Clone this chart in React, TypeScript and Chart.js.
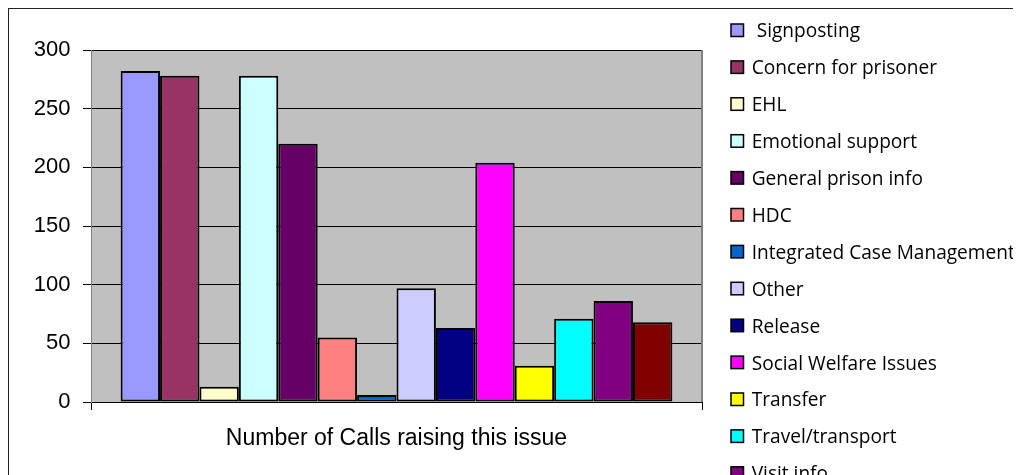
import React, { useEffect, useRef } from "react";
import { Chart, registerables } from "chart.js";

Chart.register(...registerables);

// Single category, one bar per call issue
const categories = ["Number of Calls raising this issue"];

const issueLabels = [
  " Signposting",
  "Concern for prisoner",
  "EHL",
  "Emotional support",
  "General prison info",
  "HDC",
  "Integrated Case Management",
  "Other",
  "Release",
  "Social Welfare Issues",
  "Transfer",
  "Travel/transport",
  "Visit info",
  "Written info",
];

const callCounts = [282, 278, 13, 278, 220, 55, 6, 97, 63, 204, 31, 71, 86, 68];

const issueColors = [
  "#9999FF",
  "#993366",
  "#FFFFCC",
  "#CCFFFF",
  "#660066",
  "#FF8080",
  "#0066CC",
  "#CCCCFF",
  "#000080",
  "#FF00FF",
  "#FFFF00",
  "#00FFFF",
  "#800080",
  "#800000",
];

const yTicks = [0, 50, 100, 150, 200, 250, 300];

const CANVAS_W = 1040;
const CANVAS_H = 520;

// Grey plot background, outer frame, right plot border and the legend column
const decorPlugin = {
  id: "decor",
  beforeDraw(chart: any) {
    const { ctx, chartArea } = chart;
    ctx.save();
    ctx.fillStyle = "#FFFFFF";
    ctx.fillRect(0, 0, chart.width, chart.height);
    ctx.fillStyle = "#C0C0C0";
    ctx.fillRect(
      chartArea.left,
      chartArea.top,
      chartArea.right - chartArea.left,
      chartArea.bottom - chartArea.top
    );
    ctx.restore();
  },
  afterDraw(chart: any) {
    const { ctx, chartArea } = chart;
    ctx.save();
    // right edge of the plot area
    ctx.strokeStyle = "#808080";
    ctx.lineWidth = 2;
    ctx.beginPath();
    ctx.moveTo(chartArea.right, chartArea.top);
    ctx.lineTo(chartArea.right, chartArea.bottom);
    ctx.stroke();

    // outer chart frame
    ctx.strokeStyle = "#222222";
    ctx.lineWidth = 2;
    ctx.strokeRect(1, 1, chart.width + 20, chart.height + 20);

    // legend
    ctx.font = '19.1px "Open Sans"';
    ctx.textAlign = "left";
    ctx.textBaseline = "middle";
    chart.data.datasets.forEach((ds: any, i: number) => {
      const cy = 24 + i * 36.9;
      ctx.fillStyle = ds.backgroundColor;
      ctx.fillRect(724, cy - 7, 12.5, 12.5);
      ctx.strokeStyle = "#000000";
      ctx.lineWidth = 1.5;
      ctx.strokeRect(724, cy - 7, 12.5, 12.5);
      ctx.fillStyle = "#000000";
      ctx.fillText(ds.label, 744.7, cy + 1);
    });
    ctx.restore();
  },
};

export default function App() {
  const canvasRef = useRef<HTMLCanvasElement | null>(null);

  useEffect(() => {
    const canvas = canvasRef.current;
    if (!canvas) return;

    const chart = new Chart(canvas, {
      type: "bar",
      data: {
        labels: categories,
        datasets: issueLabels.map((label, i) => ({
          label,
          data: [callCounts[i]],
          backgroundColor: issueColors[i],
          borderColor: "#000000",
          borderWidth: 2,
          borderSkipped: false,
          categoryPercentage: 0.903,
          barPercentage: 1,
        })),
      },
      options: {
        responsive: false,
        animation: false,
        layout: {
          padding: { left: 0, top: 43, right: CANVAS_W - 695, bottom: CANVAS_H - 395 - 52 },
        },
        plugins: {
          legend: { display: false },
          tooltip: { enabled: false },
        },
        scales: {
          x: {
            offset: true,
            grid: {
              display: true,
              drawOnChartArea: false,
              drawTicks: true,
              tickLength: 8,
              color: "#000000",
              offset: true,
            },
            border: { display: true, color: "#000000", width: 1 },
            ticks: {
              color: "#000000",
              font: { family: '"Liberation Sans", Arial, sans-serif', size: 23 },
              padding: 15,
              maxRotation: 0,
              autoSkip: false,
            },
            afterFit: (scale: any) => {
              scale.height = 52;
            },
          },
          y: {
            min: 0,
            max: 300,
            afterBuildTicks: (scale: any) => {
              scale.ticks = yTicks.map((v) => ({ value: v }));
            },
            grid: {
              color: "#000000",
              lineWidth: 1,
              drawTicks: true,
              tickLength: 8,
            },
            border: { display: true, color: "#808080", width: 1 },
            ticks: {
              color: "#000000",
              font: { family: '"Liberation Sans", Arial, sans-serif', size: 22 },
              padding: 12.5,
            },
            afterFit: (scale: any) => {
              scale.width = 84;
            },
          },
        },
      },
      plugins: [decorPlugin],
    });

    return () => chart.destroy();
  }, []);

  return (
    <div
      style={{
        width: 1014,
        height: 468,
        overflow: "hidden",
        marginLeft: -1,
        marginTop: -1,
        position: "relative",
      }}
    >
      <canvas ref={canvasRef} width={CANVAS_W} height={CANVAS_H} style={{ display: "block" }} />
    </div>
  );
}
